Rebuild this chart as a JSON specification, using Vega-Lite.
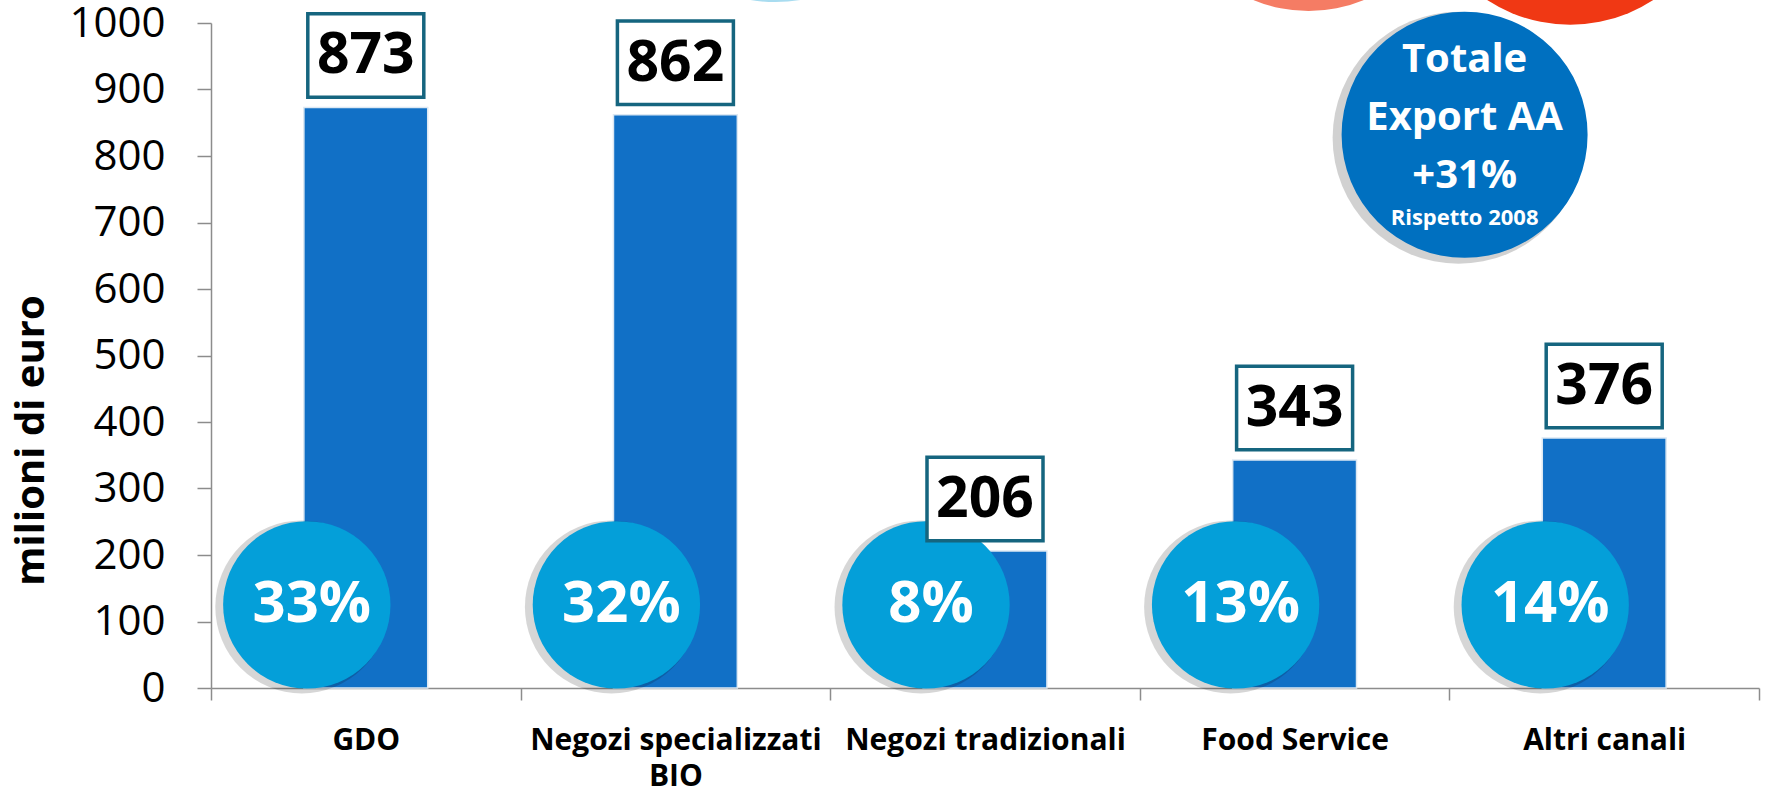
{
  "$schema": "https://vega.github.io/schema/vega-lite/v6.json",
  "autosize": "none",
  "width": 1548,
  "height": 665,
  "padding": {"left": 211, "top": 23, "right": 9, "bottom": 112},
  "background": "white",
  "config": {"view": {"stroke": null}, "font": "Open Sans"},
  "data": {
    "values": [
      {"canale": "GDO", "valore": 873, "quota": "33%"},
      {"canale": "Negozi specializzati BIO", "valore": 862, "quota": "32%"},
      {"canale": "Negozi tradizionali", "valore": 206, "quota": "8%"},
      {"canale": "Food Service", "valore": 343, "quota": "13%"},
      {"canale": "Altri canali", "valore": 376, "quota": "14%"}
    ]
  },
  "encoding": {
    "x": {
      "field": "canale",
      "type": "nominal",
      "scale": {
        "domain": ["GDO", "Negozi specializzati BIO", "Negozi tradizionali", "Food Service", "Altri canali"],
        "paddingInner": 0,
        "paddingOuter": 0
      },
      "axis": {
        "title": null,
        "tickBand": "extent",
        "domainColor": "#8c8c8c",
        "domainWidth": 1.5,
        "tickColor": "#8c8c8c",
        "tickWidth": 1.5,
        "tickSize": 12,
        "labelFont": "Open Sans",
        "labelFontSize": 30,
        "labelFontWeight": "bold",
        "labelColor": "black",
        "labelPadding": 25,
        "labelAngle": 0,
        "labelLimit": 400,
        "labelBaseline": "top",
        "labelLineHeight": 36,
        "labelExpr": "datum.value == 'Negozi specializzati BIO' ? ['Negozi specializzati', 'BIO'] : datum.label"
      }
    },
    "y": {
      "field": "valore",
      "type": "quantitative",
      "scale": {"domain": [0, 1000], "nice": false},
      "axis": {
        "values": [0, 100, 200, 300, 400, 500, 600, 700, 800, 900, 1000],
        "format": "d",
        "grid": false,
        "domainColor": "#8c8c8c",
        "domainWidth": 1.5,
        "tickColor": "#8c8c8c",
        "tickWidth": 1.5,
        "tickSize": 14,
        "labelFont": "Open Sans",
        "labelFontSize": 42,
        "labelColor": "black",
        "labelPadding": 32,
        "title": "milioni di euro",
        "titleFont": "Open Sans",
        "titleFontSize": 40,
        "titleFontWeight": "bold",
        "titleColor": "black",
        "titleAngle": -90,
        "titleX": -180,
        "titleY": 417,
        "titleAlign": "center",
        "titleBaseline": "middle"
      }
    }
  },
  "layer": [
    {
      "mark": {"type": "bar", "color": "#1170c6", "stroke": "#dce8f3", "strokeWidth": 1.5, "width": {"band": 0.4}}
    },
    {
      "mark": {
        "type": "point",
        "shape": "circle",
        "size": 29929,
        "filled": true,
        "color": "black",
        "opacity": 0.16,
        "xOffset": -64,
        "yOffset": 2
      },
      "encoding": {"y": {"datum": 125, "type": "quantitative"}}
    },
    {
      "mark": {
        "type": "point",
        "shape": "circle",
        "size": 28000,
        "filled": true,
        "color": "#049fd9",
        "opacity": 1,
        "xOffset": -59
      },
      "encoding": {"y": {"datum": 125, "type": "quantitative"}}
    },
    {
      "mark": {
        "type": "text",
        "font": "Open Sans",
        "fontSize": 58,
        "fontWeight": "bold",
        "color": "white",
        "baseline": "middle",
        "align": "center",
        "xOffset": -54
      },
      "encoding": {
        "y": {"datum": 125, "type": "quantitative"},
        "text": {"field": "quota", "type": "nominal"}
      }
    },
    {
      "mark": {
        "type": "point",
        "shape": "M-1,-0.72L1,-0.72L1,0.72L-1,0.72Z",
        "size": 13456,
        "filled": true,
        "fill": "white",
        "stroke": "#15657f",
        "strokeWidth": 3.5,
        "opacity": 1,
        "yOffset": -52
      }
    },
    {
      "mark": {
        "type": "text",
        "font": "Open Sans",
        "fontSize": 57,
        "fontWeight": "bold",
        "color": "black",
        "baseline": "middle",
        "align": "center",
        "yOffset": -51
      },
      "encoding": {"text": {"field": "valore", "type": "quantitative"}}
    },
    {
      "transform": [{"filter": "datum.canale == 'Negozi specializzati BIO'"}],
      "mark": {"type": "point", "shape": "circle", "size": 90000, "filled": true, "color": "#a8dcf0", "opacity": 1, "xOffset": 100},
      "encoding": {"y": {"datum": 1257, "type": "quantitative"}}
    },
    {
      "transform": [{"filter": "datum.canale == 'Food Service'"}],
      "mark": {"type": "point", "shape": "circle", "size": 81796, "filled": true, "color": "#f57c64", "opacity": 1, "xOffset": 14},
      "encoding": {"y": {"datum": 1233, "type": "quantitative"}}
    },
    {
      "transform": [{"filter": "datum.canale == 'Altri canali'"}],
      "mark": {"type": "point", "shape": "circle", "size": 92416, "filled": true, "color": "#f03814", "opacity": 1, "xOffset": -34},
      "encoding": {"y": {"datum": 1226, "type": "quantitative"}}
    },
    {
      "transform": [{"filter": "datum.canale == 'Food Service'"}],
      "mark": {"type": "point", "shape": "circle", "size": 63504, "filled": true, "color": "black", "opacity": 0.18, "xOffset": 164, "yOffset": 3},
      "encoding": {"y": {"datum": 832, "type": "quantitative"}}
    },
    {
      "transform": [{"filter": "datum.canale == 'Food Service'"}],
      "mark": {"type": "point", "shape": "circle", "size": 60516, "filled": true, "color": "#0070c0", "opacity": 1, "xOffset": 170},
      "encoding": {"y": {"datum": 832, "type": "quantitative"}}
    },
    {
      "transform": [{"filter": "datum.canale == 'Food Service'"}],
      "mark": {
        "type": "text",
        "text": ["Totale", "Export AA", "+31%"],
        "font": "Open Sans",
        "fontSize": 40,
        "fontWeight": "bold",
        "color": "white",
        "baseline": "middle",
        "align": "center",
        "lineHeight": 58,
        "xOffset": 170,
        "yOffset": -75
      },
      "encoding": {"y": {"datum": 832, "type": "quantitative"}}
    },
    {
      "transform": [{"filter": "datum.canale == 'Food Service'"}],
      "mark": {
        "type": "text",
        "text": "Rispetto 2008",
        "font": "Open Sans",
        "fontSize": 22,
        "fontWeight": "bold",
        "color": "white",
        "baseline": "middle",
        "align": "center",
        "xOffset": 170,
        "yOffset": 83
      },
      "encoding": {"y": {"datum": 832, "type": "quantitative"}}
    }
  ]
}
